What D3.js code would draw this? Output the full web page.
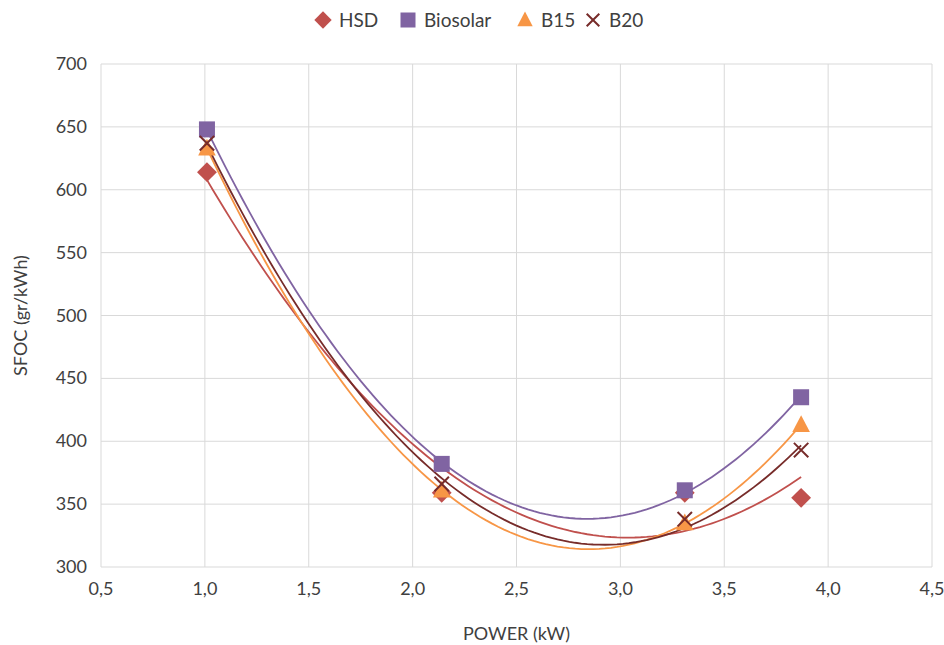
<!DOCTYPE html>
<html>
<head>
<meta charset="utf-8">
<script src="https://cdn.jsdelivr.net/npm/d3@7"></script>
<style>
  body { margin: 0; background: #fff; }
  text { font-family: Lato, "Open Sans", sans-serif; fill: #404040; }
</style>
</head>
<body>
<svg id="chart" width="944" height="645"></svg>
<script>
const powerX = [1.01, 2.14, 3.31, 3.87];
const hsd = [614, 359, 359, 355];
const biosolar = [648, 382, 361, 435];
const b15 = [633, 361, 335, 413];
const b20 = [637, 366, 338, 393];
const xTicks = [0.5, 1.0, 1.5, 2.0, 2.5, 3.0, 3.5, 4.0, 4.5];
const yTicks = [300, 350, 400, 450, 500, 550, 600, 650, 700];

const series = [
  { name: "HSD", values: hsd, color: "#C0504D", shape: "diamond" },
  { name: "Biosolar", values: biosolar, color: "#8064A2", shape: "square" },
  { name: "B15", values: b15, color: "#F79646", shape: "triangle" },
  { name: "B20", values: b20, color: "#772C2A", shape: "cross" }
];

const width = 944, height = 645;
const margin = { top: 64, right: 12, bottom: 78, left: 101 };

const svg = d3.select("#chart");
const x = d3.scaleLinear().domain([0.5, 4.5]).range([margin.left, width - margin.right]);
const y = d3.scaleLinear().domain([300, 700]).range([height - margin.bottom, margin.top]);

// grid
svg.append("g").selectAll("line").data(yTicks).join("line")
  .attr("x1", x(0.5)).attr("x2", x(4.5))
  .attr("y1", d => y(d)).attr("y2", d => y(d))
  .attr("stroke", "#D9D9D9").attr("stroke-width", 1);
svg.append("g").selectAll("line").data(xTicks).join("line")
  .attr("y1", y(300)).attr("y2", y(700))
  .attr("x1", d => x(d)).attr("x2", d => x(d))
  .attr("stroke", "#D9D9D9").attr("stroke-width", 1);

// tick labels
const fmt = d => d.toFixed(1).replace(".", ",");
svg.append("g").selectAll("text").data(xTicks).join("text")
  .attr("x", d => x(d)).attr("y", y(300) + 28)
  .attr("text-anchor", "middle").attr("font-size", 18)
  .text(fmt);
svg.append("g").selectAll("text").data(yTicks).join("text")
  .attr("x", x(0.5) - 14).attr("y", d => y(d) + 6)
  .attr("text-anchor", "end").attr("font-size", 18)
  .text(d => d);

// axis titles
svg.append("text")
  .attr("x", (x(0.5) + x(4.5)) / 2).attr("y", 640)
  .attr("text-anchor", "middle").attr("font-size", 18)
  .text("POWER (kW)");
svg.append("text")
  .attr("transform", `translate(27,${(y(300) + y(700)) / 2}) rotate(-90)`)
  .attr("text-anchor", "middle").attr("font-size", 18)
  .text("SFOC (gr/kWh)");

// quadratic least squares fit (Excel polynomial trendline, order 2)
function polyFit(xs, ys) {
  let S = [0, 0, 0, 0, 0], T = [0, 0, 0];
  xs.forEach((xi, i) => {
    for (let k = 0; k < 5; k++) S[k] += Math.pow(xi, k);
    for (let k = 0; k < 3; k++) T[k] += ys[i] * Math.pow(xi, k);
  });
  const A = [[S[0], S[1], S[2], T[0]], [S[1], S[2], S[3], T[1]], [S[2], S[3], S[4], T[2]]];
  for (let i = 0; i < 3; i++) {
    for (let j = i + 1; j < 3; j++) {
      const f = A[j][i] / A[i][i];
      for (let k = i; k < 4; k++) A[j][k] -= f * A[i][k];
    }
  }
  const c = [0, 0, 0];
  for (let i = 2; i >= 0; i--) {
    let s = A[i][3];
    for (let k = i + 1; k < 3; k++) s -= A[i][k] * c[k];
    c[i] = s / A[i][i];
  }
  return t => c[0] + c[1] * t + c[2] * t * t;
}

const line = d3.line().x(d => x(d[0])).y(d => y(d[1]));
const xmin = d3.min(powerX), xmax = d3.max(powerX);
const steps = d3.range(0, 101).map(i => xmin + (xmax - xmin) * i / 100);

series.forEach(s => {
  const f = polyFit(powerX, s.values);
  svg.append("path")
    .attr("d", line(steps.map(t => [t, f(t)])))
    .attr("fill", "none").attr("stroke", s.color).attr("stroke-width", 1.8);
});

function drawMarker(g, shape, color, cx, cy, size) {
  if (shape === "square") {
    g.append("rect").attr("x", cx - size / 2).attr("y", cy - size / 2)
      .attr("width", size).attr("height", size).attr("fill", color);
  } else if (shape === "diamond") {
    const r = size * 0.62;
    g.append("path").attr("d", `M${cx},${cy - r}L${cx + r},${cy}L${cx},${cy + r}L${cx - r},${cy}Z`)
      .attr("fill", color);
  } else if (shape === "triangle") {
    const h = size;
    g.append("path").attr("d", `M${cx},${cy - h * 0.6}L${cx + h * 0.55},${cy + h * 0.45}L${cx - h * 0.55},${cy + h * 0.45}Z`)
      .attr("fill", color);
  } else {
    const r = size * 0.45;
    g.append("path").attr("d", `M${cx - r},${cy - r}L${cx + r},${cy + r}M${cx - r},${cy + r}L${cx + r},${cy - r}`)
      .attr("stroke", color).attr("stroke-width", 2).attr("fill", "none");
  }
}

// markers
series.forEach(s => {
  const g = svg.append("g");
  powerX.forEach((px, i) => drawMarker(g, s.shape, s.color, x(px), y(s.values[i]), 16));
});

// legend
const legend = svg.append("g");
const legendX = [323, 408, 525, 593];
series.forEach((s, i) => {
  drawMarker(legend, s.shape, s.color, legendX[i], 20, s.shape === "square" ? 15 : 14);
  legend.append("text").attr("x", legendX[i] + 16).attr("y", 27)
    .attr("font-size", 19).text(s.name);
});
</script>
</body>
</html>
